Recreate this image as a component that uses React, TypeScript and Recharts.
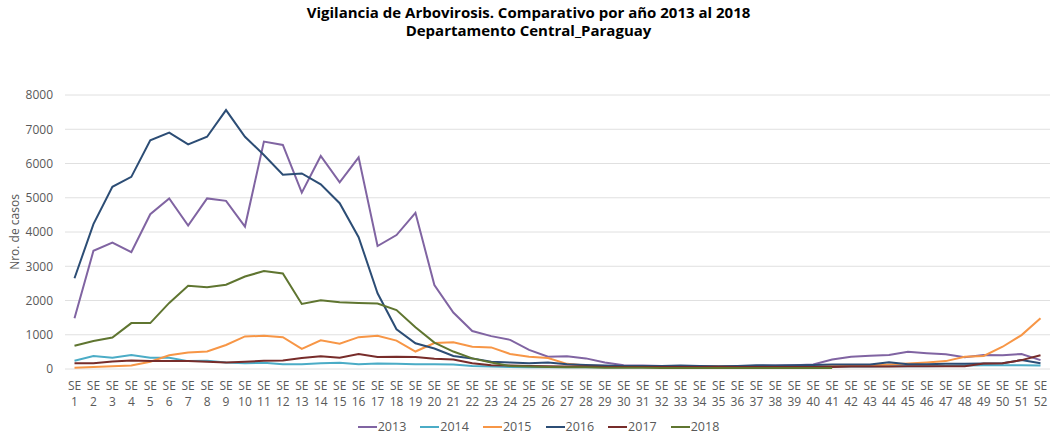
import { LineChart, Line, XAxis, YAxis, CartesianGrid } from 'recharts';

const weeks = Array.from({ length: 52 }, (_, i) => String(i + 1));

const years = ['2013', '2014', '2015', '2016', '2017', '2018'];
const colors = ['#8064a2', '#4bacc6', '#f79646', '#2c4d75', '#772c2a', '#5f7530'];

const y2013 = [1480, 3450, 3690, 3410, 4520, 4980, 4190, 4980, 4910, 4160, 6640, 6540, 5150, 6220, 5450, 6180, 3590, 3910, 4560, 2450, 1650, 1110, 960, 850, 560, 360, 370, 310, 190, 110, 100, 90, 80, 80, 70, 80, 90, 100, 110, 130, 280, 360, 390, 410, 500, 460, 430, 340, 410, 400, 440, 260];
const y2014 = [240, 380, 330, 410, 330, 330, 230, 240, 190, 170, 180, 140, 140, 170, 180, 140, 160, 150, 140, 140, 130, 90, 70, 60, 50, 50, 50, 50, 50, 50, 50, 50, 50, 50, 50, 50, 60, 60, 60, 60, 70, 70, 70, 80, 80, 80, 90, 100, 110, 110, 110, 100];
const y2015 = [40, 60, 80, 100, 210, 400, 480, 510, 700, 950, 970, 930, 590, 840, 740, 930, 970, 830, 510, 760, 780, 650, 630, 440, 360, 320, 150, 100, 90, 90, 90, 90, 90, 80, 80, 80, 80, 80, 80, 80, 90, 100, 110, 130, 160, 190, 230, 360, 380, 650, 990, 1480];
const y2016 = [2650, 4230, 5320, 5610, 6680, 6900, 6560, 6780, 7560, 6780, 6250, 5670, 5710, 5390, 4840, 3850, 2210, 1160, 750, 600, 380, 310, 210, 190, 170, 190, 140, 120, 100, 90, 90, 90, 100, 90, 80, 90, 110, 100, 110, 120, 130, 130, 130, 200, 140, 140, 150, 150, 160, 170, 260, 170];
const y2017 = [170, 170, 220, 250, 230, 230, 230, 210, 190, 210, 240, 250, 320, 370, 330, 440, 350, 360, 350, 300, 280, 170, 110, 100, 90, 80, 70, 70, 60, 60, 60, 60, 60, 60, 60, 60, 60, 60, 60, 60, 60, 70, 70, 70, 80, 80, 80, 80, 160, 170, 260, 400];
const y2018 = [680, 820, 920, 1340, 1340, 1930, 2430, 2390, 2460, 2700, 2860, 2790, 1900, 2010, 1950, 1930, 1910, 1720, 1220, 770, 510, 310, 190, 90, 70, 60, 50, 50, 40, 40, 40, 30, 30, 30, 30, 30, 30, 30, 30, 30, 30];

const yTicks = [0, 1000, 2000, 3000, 4000, 5000, 6000, 7000, 8000];

const series = [y2013, y2014, y2015, y2016, y2017, y2018];

const data = weeks.map((w, i) => {
  const row: any = { week: w };
  years.forEach((yr, k) => {
    row[yr] = series[k][i] ?? null;
  });
  return row;
});

const font = '"Open Sans", "DejaVu Sans", sans-serif';

const SeTick = (props: any) => {
  const { x, y, payload } = props;
  return (
    <g transform={`translate(${x},${y})`}>
      <text textAnchor="middle" fill="#595959" fontSize={12} fontFamily={font}>
        <tspan x={0} dy={13}>SE</tspan>
        <tspan x={0} dy={16}>{payload.value}</tspan>
      </text>
    </g>
  );
};

export default function App() {
  return (
    <div style={{ position: 'absolute', left: 0, top: 0, width: 1057, height: 436, background: '#fff', fontFamily: font }}>
      <div style={{ position: 'absolute', top: 3, left: 0, width: 1057, textAlign: 'center', fontWeight: 700, fontSize: 15, lineHeight: '18px', color: '#000' }}>
        Vigilancia de Arbovirosis. Comparativo por año 2013 al 2018
        <br />
        Departamento Central_Paraguay
      </div>
      <LineChart width={1057} height={436} data={data} margin={{ top: 95, right: 7, bottom: 27, left: 0 }}>
        <CartesianGrid vertical={false} stroke="#e0e0e0" />
        <XAxis
          dataKey="week"
          interval={0}
          tick={<SeTick />}
          tickLine={false}
          axisLine={false}
          height={40}
          padding={{ left: 9.5, right: 9.5 }}
        />
        <YAxis
          width={65}
          domain={[0, 8000]}
          ticks={yTicks}
          tickLine={false}
          axisLine={false}
          tickMargin={6}
          tick={{ fontSize: 12, fill: '#595959', fontFamily: font }}
        />
        {years.map((yr, k) => (
          <Line
            key={yr}
            dataKey={yr}
            stroke={colors[k]}
            strokeWidth={2}
            dot={false}
            isAnimationActive={false}
            connectNulls={false}
          />
        ))}
      </LineChart>
      <svg style={{ position: 'absolute', left: 0, top: 0 }} width={40} height={436}>
        <text transform="translate(19,232) rotate(-90)" textAnchor="middle" fontSize={12} fill="#595959" fontFamily={font}>
          Nro. de casos
        </text>
      </svg>
      <div style={{ position: 'absolute', top: 418, left: 0, width: 1057, display: 'flex', justifyContent: 'center', paddingLeft: 34, boxSizing: 'border-box' }}>
        {years.map((yr, k) => (
          <div key={yr} style={{ display: 'flex', alignItems: 'center', marginRight: 14, fontSize: 12.5, color: '#595959' }}>
            <span style={{ display: 'inline-block', width: 19, height: 2, background: colors[k], marginRight: 1 }} />
            <span>{yr}</span>
          </div>
        ))}
      </div>
    </div>
  );
}
